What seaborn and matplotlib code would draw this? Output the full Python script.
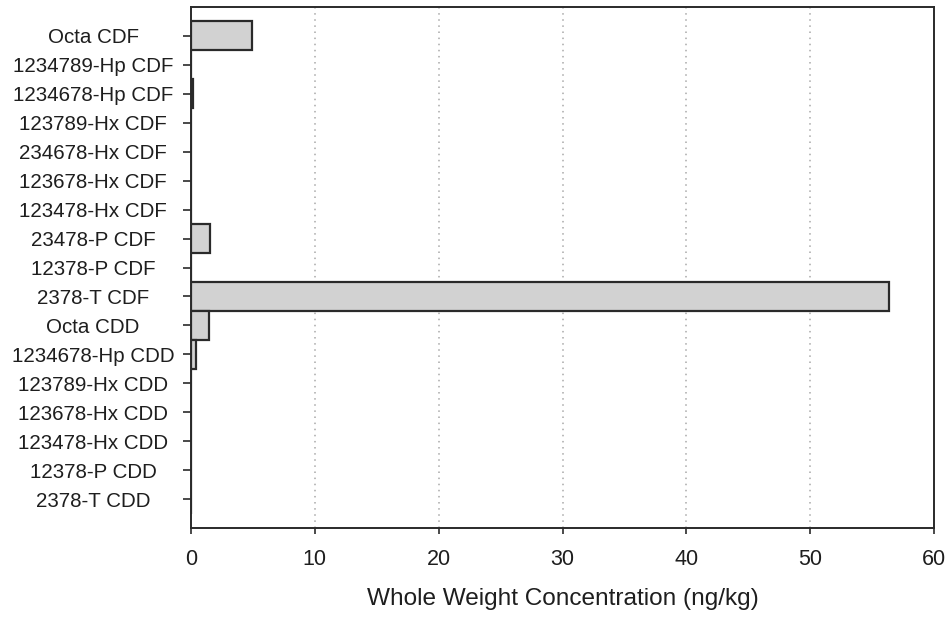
import matplotlib
matplotlib.use("Agg")
import matplotlib.pyplot as plt
import seaborn as sns
import pandas as pd

categories = ["Octa CDF", "1234789-Hp CDF", "1234678-Hp CDF", "123789-Hx CDF",
              "234678-Hx CDF", "123678-Hx CDF", "123478-Hx CDF", "23478-P CDF",
              "12378-P CDF", "2378-T CDF", "Octa CDD", "1234678-Hp CDD",
              "123789-Hx CDD", "123678-Hx CDD", "123478-Hx CDD", "12378-P CDD",
              "2378-T CDD"]
values = [4.9, 0.0, 0.15, 0.0, 0.0, 0.0, 0.0, 1.5, 0.0, 56.4, 1.45, 0.4,
          0.0, 0.0, 0.0, 0.0, 0.0]
xticks = [0, 10, 20, 30, 40, 50, 60]
xlabel = "Whole Weight Concentration (ng/kg)"

sns.set_theme(style="white")
plt.rcParams["font.family"] = ["Liberation Sans", "DejaVu Sans"]

df = pd.DataFrame({"cat": categories, "val": values})

fig = plt.figure(figsize=(9.52, 6.24), dpi=100)
ax = fig.add_axes([191 / 952, (624 - 528) / 624, 743 / 952, 521 / 624])

sns.barplot(data=df, x="val", y="cat", order=categories, orient="h",
            width=1.0, color="#d2d2d2", edgecolor="#2a2a2a", linewidth=1.6,
            saturation=1, ax=ax)

ax.set_xlim(0, 60)
ax.set_ylim(17, -1)
ax.set_xticks(xticks)
ax.set_xticklabels([str(t) for t in xticks])
ax.set_xlabel(xlabel, fontsize=17.6, color="#1e1e1e", labelpad=13)
ax.set_ylabel("")

for x in xticks[1:-1]:
    ax.axvline(x, color="#a8a8a8", linestyle=(0, (1, 3)), linewidth=1.1, zorder=0)

for s in ax.spines.values():
    s.set_visible(True)
    s.set_color("#2a2a2a")
    s.set_linewidth(1.4)

ax.tick_params(axis="y", direction="out", length=5.5, width=1.2, color="#2a2a2a",
               labelsize=14.8, labelcolor="#1e1e1e", left=True, pad=65)
ax.tick_params(axis="x", direction="out", length=4, width=1.2, color="#2a2a2a",
               labelsize=15.5, labelcolor="#1e1e1e", bottom=True, pad=11)
for lbl in ax.get_yticklabels():
    lbl.set_ha("center")

fig.savefig("out.png", dpi=100)
